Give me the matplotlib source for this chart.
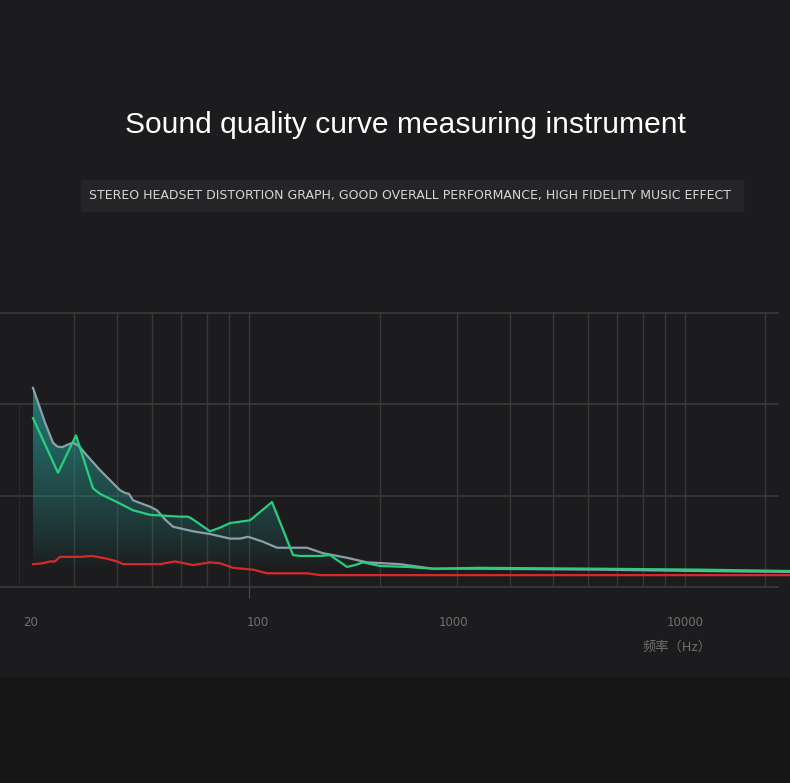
import numpy as np
import matplotlib
matplotlib.use("Agg")
from matplotlib import pyplot as plt
from matplotlib.patches import Rectangle, Polygon

plt.rcParams['font.family'] = ['Liberation Sans', 'DejaVu Sans']

# chart position units (0..790 across the panel), distortion units on y
gray_x = [33, 45, 53, 57, 62, 68, 73, 78, 100, 120, 125, 129, 133, 140, 150, 157, 165, 173, 193, 210, 230, 240, 248, 262, 277, 307, 323, 347, 367, 400, 433, 480, 600, 700, 790]
gray_y = [2.18, 1.80, 1.58, 1.54, 1.53, 1.56, 1.58, 1.55, 1.28, 1.06, 1.03, 1.02, 0.95, 0.92, 0.88, 0.84, 0.74, 0.66, 0.61, 0.58, 0.53, 0.53, 0.55, 0.50, 0.43, 0.43, 0.37, 0.32, 0.27, 0.25, 0.20, 0.20, 0.19, 0.175, 0.165]

green_x = [33, 58, 76, 93, 100, 117, 133, 150, 180, 188, 193, 210, 220, 230, 250, 272, 293, 300, 320, 330, 347, 355, 363, 380, 407, 433, 480, 600, 700, 790]
green_y = [1.85, 1.25, 1.66, 1.08, 1.02, 0.93, 0.84, 0.79, 0.77, 0.77, 0.74, 0.61, 0.65, 0.70, 0.73, 0.93, 0.35, 0.34, 0.34, 0.35, 0.22, 0.24, 0.27, 0.23, 0.22, 0.20, 0.21, 0.20, 0.19, 0.175]

red_x = [33, 43, 50, 55, 60, 80, 92, 107, 117, 123, 160, 175, 193, 210, 220, 233, 253, 267, 307, 320, 790]
red_y = [0.25, 0.26, 0.28, 0.28, 0.33, 0.33, 0.34, 0.31, 0.28, 0.25, 0.25, 0.28, 0.24, 0.27, 0.26, 0.21, 0.19, 0.15, 0.15, 0.13, 0.13]

grid_x = [74, 117, 152, 181, 207, 229, 249, 380, 457, 510, 553, 588, 617, 643, 665, 685, 765]
grid_y = [0, 1, 2, 3]
tick_marks = [249, 685]
label_pos = [31, 258, 453, 685]
label_txt = ['20', '100', '1000', '10000']

W, H = 790, 783
fig = plt.figure(figsize=(W / 100, H / 100), dpi=100)
fig.patch.set_facecolor('#1c1c1e')
fig.patches.append(Rectangle((0, 0), 1, (H - 678) / H, transform=fig.transFigure,
                             color='#161616', zorder=0))

# title + subtitle bar
fig.text(405 / W, 1 - 125 / H, 'Sound quality curve measuring instrument',
         ha='center', va='center', color='white', fontsize=21.6)
fig.patches.append(Rectangle((81 / W, 1 - 211 / H), 662 / W, 31 / H,
                             transform=fig.transFigure, color='#252527', zorder=1))
fig.text(410 / W, 1 - 195 / H,
         'STEREO HEADSET DISTORTION GRAPH, GOOD OVERALL PERFORMANCE, HIGH FIDELITY MUSIC EFFECT',
         ha='center', va='center', color='#d6d6d6', fontsize=9.0,
         family=['DejaVu Sans'], zorder=2)

ax = fig.add_axes([0, (H - 587) / H, 1, (587 - 313) / H])
ax.set_facecolor('none')
ax.set_xlim(0, W)
ax.set_ylim(0, 3)
for s in ax.spines.values():
    s.set_visible(False)

for gy in grid_y:
    ax.plot([0, 778], [gy, gy], color='#3b3b3b', lw=1.2, zorder=1, clip_on=False)
for gx in grid_x:
    ax.plot([gx, gx], [0, 3], color='#383838', lw=1.0, zorder=1)
ax.plot([19, 19], [0, 2.0], color='#2a2a2a', lw=0.8, zorder=1)

# gradient fill under the upper envelope
env_x = np.array(sorted(set(gray_x) | set(green_x)))
env_y = np.maximum(np.interp(env_x, gray_x, gray_y), np.interp(env_x, green_x, green_y))
poly = Polygon(np.column_stack([np.r_[env_x, env_x[-1], env_x[0]],
                                np.r_[env_y, 0.1, 0.1]]),
               closed=True, facecolor='none', edgecolor='none')
ax.add_patch(poly)
grad = np.zeros((200, 2, 4))
yy = np.linspace(3, 0, 200)
grad[..., 0] = 0.15
grad[..., 1] = 0.56
grad[..., 2] = 0.53
alpha = np.clip((yy - 0.2) / 1.9, 0, 1) ** 0.85 * 0.8
grad[..., 3] = alpha[:, None]
im = ax.imshow(grad, extent=[0, W, 0, 3], aspect='auto', zorder=2, interpolation='bilinear')
im.set_clip_path(poly)

ax.plot(red_x, red_y, color='#d62a2a', lw=1.6, zorder=4, solid_joinstyle='round')
ax.plot(gray_x, gray_y, color='#8a9fa9', lw=1.6, zorder=5, solid_joinstyle='round')
ax.plot(green_x, green_y, color='#27cf7d', lw=1.6, zorder=6, solid_joinstyle='round')

ax.set_xticks(label_pos, label_txt)
ax.set_xticks(tick_marks, minor=True)
ax.tick_params(axis='x', which='major', length=0, pad=21, labelcolor='#707070', labelsize=8.5)
ax.tick_params(axis='x', which='minor', length=8, width=0.8, color='#4a4a4a')
ax.set_yticks([])
for lab in ax.get_xticklabels():
    lab.set_family(['DejaVu Sans'])

fig.text(677 / W, 1 - 647 / H, '频率（Hz）', ha='center', va='center', color='#6e6e6e',
         fontsize=9.5, family=['Noto Sans CJK SC', 'DejaVu Sans'])

fig.savefig('out.png', dpi=100, facecolor=fig.get_facecolor())
